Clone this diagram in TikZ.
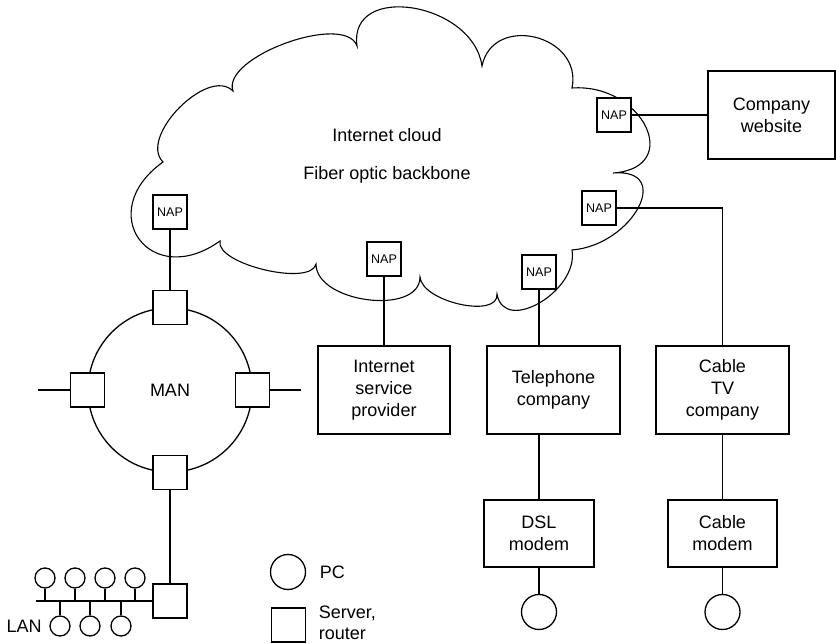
\documentclass[tikz,border=0pt]{standalone}
\usepackage{fontspec}
\setmainfont{Liberation Sans}
\usetikzlibrary{positioning}

\begin{document}
\begin{tikzpicture}[x=1pt, y=-1pt, line width=1.3pt,
    every node/.style={font=\fontsize{18}{22}\selectfont}]
  \tikzstyle{nap}=[draw, fill=white, minimum size=34pt, inner sep=0pt,
                   font=\fontsize{12.5}{14}\selectfont]
  \tikzstyle{router}=[draw, fill=white, minimum size=34pt, inner sep=0pt]
  \tikzstyle{orgbox}=[draw, fill=white, align=center, inner sep=0pt]
  \tikzstyle{pc}=[draw, circle, inner sep=0pt, minimum size=35pt]
  \tikzstyle{lanpc}=[draw, circle, inner sep=0pt, minimum size=20pt]
  \tikzstyle{lbl}=[inner sep=0pt, align=left]
  \useasboundingbox (0,0) rectangle (836,644);

  % Internet cloud
  \draw[line width=1.1pt] (233,91) .. controls (221,57) and (345,12) .. (357,46)
        .. controls (348,-18) and (473,2) .. (482,66)
        .. controls (493,13) and (583,35) .. (572,88)
        .. controls (643,83) and (684,168) .. (613,173)
        .. controls (674,168) and (633,245) .. (572,250)
        .. controls (579,291) and (504,335) .. (497,294)
        .. controls (499,319) and (422,302) .. (420,277)
        .. controls (420,316) and (316,303) .. (316,264)
        .. controls (311,287) and (215,264) .. (220,241)
        .. controls (150,291) and (93,212) .. (163,162)
        .. controls (138,137) and (208,66) .. cycle;
  \node (inet) at (387,135) {Internet cloud};
  \node (fiber) at (387,175) {Fiber optic backbone};

  \node[nap] (nap1) at (170,212) {NAP};
  \node[nap] (nap2) at (384,259) {NAP};
  \node[nap] (nap3) at (614,115) {NAP};
  \node[nap] (nap4) at (599,208) {NAP};
  \node[nap] (nap5) at (539,272) {NAP};

  \node[orgbox, minimum width=127pt, minimum height=88pt] (web) at (771.5,115) {Company\\website};
  \node[orgbox, minimum width=132pt, minimum height=88pt] (isp) at (384,390) {Internet\\service\\provider};
  \node[orgbox, minimum width=133pt, minimum height=88pt] (tel) at (553.5,390) {Telephone\\company};
  \node[orgbox, minimum width=133pt, minimum height=88pt] (ctv) at (722.5,390) {Cable\\TV\\company};
  \node[orgbox, minimum width=110pt, minimum height=67pt] (dsl) at (539,533.5) {DSL\\modem};
  \node[orgbox, minimum width=109pt, minimum height=67pt] (cmodem) at (722.5,533.5) {Cable\\modem};
  \node[pc] (pcdsl) at (539,612) {};
  \node[pc] (pccable) at (722.5,612) {};

  \draw (nap3) -- (web);
  \draw (nap2) -- (isp);
  \draw (nap4.east) -| (ctv.north);
  \draw (nap5.south) -- (nap5.south |- tel.north);
  \draw (dsl.north |- tel.south) -- (dsl.north);
  \draw (dsl) -- (pcdsl);
  \draw (ctv) -- (cmodem);
  \draw (cmodem) -- (pccable);

  % MAN ring
  \node[draw, circle, minimum size=164pt, inner sep=0pt] (man) at (170,390) {MAN};
  \node[router] (mt) at (man.north) {};
  \node[router] (ml) at (man.west) {};
  \node[router] (mr) at (man.east) {};
  \node[router] (mb) at (man.south) {};
  \coordinate (wend) at (38,390);
  \coordinate (eend) at (301,390);
  \draw (ml) -- (wend);
  \draw (mr) -- (eend);
  \draw (nap1) -- (mt);

  % LAN
  \node[router] (lanr) at (170,601) {};
  \coordinate (busw) at (36,601);
  \draw (mb) -- (lanr);
  \draw (busw) -- (lanr);
  \foreach \x [count=\i] in {45,75,105,135} {
    \node[lanpc] (up\i) at (\x,578) {};
    \draw (up\i) -- (up\i |- busw);
  }
  \foreach \x [count=\i] in {60,90,121} {
    \node[lanpc] (lo\i) at (\x,626) {};
    \draw (lo\i) -- (lo\i |- busw);
  }
  \node[lbl, left=7pt of lo1] (lan) {LAN};

  % key
  \node[pc] (keypc) at (288,572) {};
  \node[lbl, right=13pt of keypc] (keypclbl) {PC};
  \node[router] (keysq) at (288.5,625) {};
  \node[lbl, right=12pt of keysq, yshift=2pt, font=\fontsize{18}{21}\selectfont] (keysqlbl) {Server,\\router};
\end{tikzpicture}
\end{document}
